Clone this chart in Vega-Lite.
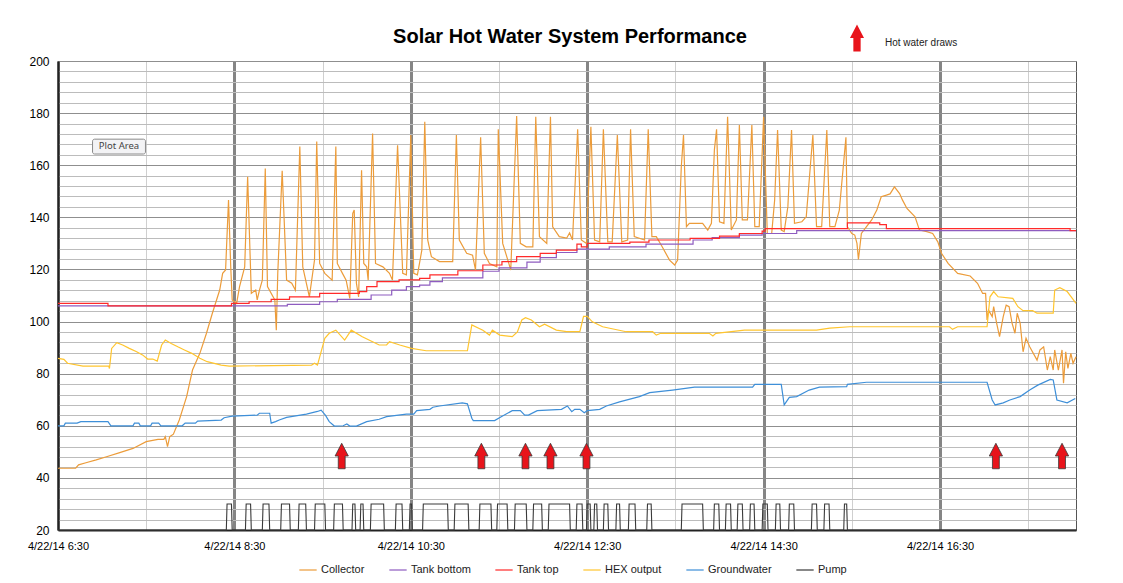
{
  "$schema": "https://vega.github.io/schema/vega-lite/v6.json",
  "width": 1018,
  "height": 469,
  "autosize": {"type": "none"},
  "padding": {"left": 58, "top": 61, "right": 47, "bottom": 53},
  "background": "white",
  "title": {"text": "Solar Hot Water System Performance", "fontSize": 20, "fontWeight": "bold", "font": "Liberation Sans", "color": "#000000", "anchor": "middle", "frame": "group", "offset": 17, "dx": 3, "dy": 40},
  "config": {
    "font": "Liberation Sans",
    "view": {"stroke": "#555555", "strokeWidth": 1}
  },
  "datasets": {
    "collector": [
      {"t":"2014-04-22 06:30","v":43.7},{"t":"2014-04-22 06:42","v":43.7},{"t":"2014-04-22 06:44","v":45},{"t":"2014-04-22 06:49","v":45.8},{"t":"2014-04-22 06:56","v":46.9},{"t":"2014-04-22 07:03","v":48.1},{"t":"2014-04-22 07:12","v":49.7},{"t":"2014-04-22 07:21","v":51.3},{"t":"2014-04-22 07:30","v":53.9},{"t":"2014-04-22 07:38","v":54.8},{"t":"2014-04-22 07:42","v":54.8},{"t":"2014-04-22 07:43","v":55.8},{"t":"2014-04-22 07:44:30","v":52},{"t":"2014-04-22 07:46","v":55.8},{"t":"2014-04-22 07:48:30","v":56.8},{"t":"2014-04-22 07:52:30","v":62.2},{"t":"2014-04-22 07:57:30","v":71.2},{"t":"2014-04-22 08:01:30","v":81.4},{"t":"2014-04-22 08:06:30","v":87.8},{"t":"2014-04-22 08:11","v":95.5},{"t":"2014-04-22 08:15","v":103.2},{"t":"2014-04-22 08:20","v":112.1},{"t":"2014-04-22 08:22","v":118.5},{"t":"2014-04-22 08:24","v":119.8},{"t":"2014-04-22 08:26","v":146.6},{"t":"2014-04-22 08:27:30","v":121},{"t":"2014-04-22 08:28:30","v":108.3},{"t":"2014-04-22 08:31:30","v":107},{"t":"2014-04-22 08:33:30","v":113.4},{"t":"2014-04-22 08:37","v":121},{"t":"2014-04-22 08:39","v":155.6},{"t":"2014-04-22 08:41:30","v":110.8},{"t":"2014-04-22 08:44:30","v":112.1},{"t":"2014-04-22 08:45:30","v":108.3},{"t":"2014-04-22 08:47","v":112},{"t":"2014-04-22 08:49","v":115.9},{"t":"2014-04-22 08:51","v":158.7},{"t":"2014-04-22 08:52:30","v":113.4},{"t":"2014-04-22 08:57:30","v":108.3},{"t":"2014-04-22 08:58:30","v":96.7},{"t":"2014-04-22 08:59:30","v":118.5},{"t":"2014-04-22 09:02:30","v":157.9},{"t":"2014-04-22 09:05:30","v":115.9},{"t":"2014-04-22 09:09","v":114.7},{"t":"2014-04-22 09:11:30","v":112},{"t":"2014-04-22 09:14:30","v":167.2},{"t":"2014-04-22 09:16:30","v":121},{"t":"2014-04-22 09:21","v":109.5},{"t":"2014-04-22 09:24:30","v":123.6},{"t":"2014-04-22 09:26","v":169.1},{"t":"2014-04-22 09:28","v":122.3},{"t":"2014-04-22 09:31:30","v":118.5},{"t":"2014-04-22 09:36:30","v":115.9},{"t":"2014-04-22 09:39","v":167.2},{"t":"2014-04-22 09:40","v":122.3},{"t":"2014-04-22 09:43:30","v":118.5},{"t":"2014-04-22 09:46","v":115.9},{"t":"2014-04-22 09:48:30","v":108.9},{"t":"2014-04-22 09:50:30","v":141.5},{"t":"2014-04-22 09:51:30","v":142.8},{"t":"2014-04-22 09:53","v":114.7},{"t":"2014-04-22 09:54:30","v":109.5},{"t":"2014-04-22 09:56:30","v":158.1},{"t":"2014-04-22 09:58","v":122.3},{"t":"2014-04-22 10:00","v":121},{"t":"2014-04-22 10:01","v":115.9},{"t":"2014-04-22 10:04","v":172.2},{"t":"2014-04-22 10:06","v":122.3},{"t":"2014-04-22 10:11","v":121},{"t":"2014-04-22 10:15:30","v":118.5},{"t":"2014-04-22 10:17:30","v":115.9},{"t":"2014-04-22 10:21","v":167.7},{"t":"2014-04-22 10:24:30","v":118.5},{"t":"2014-04-22 10:27","v":117.9},{"t":"2014-04-22 10:30","v":171.6},{"t":"2014-04-22 10:32","v":118.5},{"t":"2014-04-22 10:34:30","v":117.9},{"t":"2014-04-22 10:37:30","v":127.4},{"t":"2014-04-22 10:39:30","v":176.7},{"t":"2014-04-22 10:41:30","v":131.3},{"t":"2014-04-22 10:44","v":124.9},{"t":"2014-04-22 10:49:30","v":123},{"t":"2014-04-22 10:58:30","v":123},{"t":"2014-04-22 11:01","v":171.6},{"t":"2014-04-22 11:03","v":131.3},{"t":"2014-04-22 11:08","v":126.2},{"t":"2014-04-22 11:12","v":125.5},{"t":"2014-04-22 11:14","v":119.8},{"t":"2014-04-22 11:17:30","v":170.7},{"t":"2014-04-22 11:20","v":126.2},{"t":"2014-04-22 11:23:30","v":122.3},{"t":"2014-04-22 11:28:30","v":121},{"t":"2014-04-22 11:29:30","v":173.8},{"t":"2014-04-22 11:32:30","v":130},{"t":"2014-04-22 11:36","v":123.6},{"t":"2014-04-22 11:38","v":119.8},{"t":"2014-04-22 11:42","v":178.9},{"t":"2014-04-22 11:44:30","v":130},{"t":"2014-04-22 11:48:30","v":128.7},{"t":"2014-04-22 11:53","v":128.7},{"t":"2014-04-22 11:55","v":178.6},{"t":"2014-04-22 11:57:30","v":132.6},{"t":"2014-04-22 12:02:30","v":130},{"t":"2014-04-22 12:05","v":178.6},{"t":"2014-04-22 12:06:30","v":136.4},{"t":"2014-04-22 12:11","v":132.6},{"t":"2014-04-22 12:16","v":132},{"t":"2014-04-22 12:18","v":134},{"t":"2014-04-22 12:20","v":131.3},{"t":"2014-04-22 12:23:30","v":173.8},{"t":"2014-04-22 12:26","v":131.3},{"t":"2014-04-22 12:29:30","v":130},{"t":"2014-04-22 12:32:30","v":174.8},{"t":"2014-04-22 12:35","v":131.3},{"t":"2014-04-22 12:38:30","v":130.6},{"t":"2014-04-22 12:41","v":173.8},{"t":"2014-04-22 12:44","v":130.6},{"t":"2014-04-22 12:47","v":130.6},{"t":"2014-04-22 12:50:30","v":171.6},{"t":"2014-04-22 12:53:30","v":130.6},{"t":"2014-04-22 12:57:30","v":131.3},{"t":"2014-04-22 12:59:30","v":173.8},{"t":"2014-04-22 13:02","v":132.6},{"t":"2014-04-22 13:09","v":131.3},{"t":"2014-04-22 13:11:30","v":173.8},{"t":"2014-04-22 13:14","v":132.6},{"t":"2014-04-22 13:17","v":132.6},{"t":"2014-04-22 13:21","v":128.7},{"t":"2014-04-22 13:26","v":123.6},{"t":"2014-04-22 13:29:30","v":121.7},{"t":"2014-04-22 13:31:30","v":123.6},{"t":"2014-04-22 13:34","v":159.4},{"t":"2014-04-22 13:35:30","v":171.6},{"t":"2014-04-22 13:37:30","v":136.4},{"t":"2014-04-22 13:39:30","v":137.7},{"t":"2014-04-22 13:48:30","v":137.7},{"t":"2014-04-22 13:52","v":135.1},{"t":"2014-04-22 13:54:30","v":137.7},{"t":"2014-04-22 13:56:30","v":165.8},{"t":"2014-04-22 13:58","v":173.8},{"t":"2014-04-22 14:00","v":138.3},{"t":"2014-04-22 14:03","v":137.7},{"t":"2014-04-22 14:05:30","v":178.6},{"t":"2014-04-22 14:08","v":135.1},{"t":"2014-04-22 14:11:30","v":139},{"t":"2014-04-22 14:13:30","v":175.4},{"t":"2014-04-22 14:15:30","v":139},{"t":"2014-04-22 14:19","v":139},{"t":"2014-04-22 14:22","v":175.4},{"t":"2014-04-22 14:24","v":136.4},{"t":"2014-04-22 14:27","v":136.4},{"t":"2014-04-22 14:30","v":178.6},{"t":"2014-04-22 14:32:30","v":133.8},{"t":"2014-04-22 14:35:30","v":133.8},{"t":"2014-04-22 14:37:30","v":146.6},{"t":"2014-04-22 14:39:30","v":173.5},{"t":"2014-04-22 14:42","v":135.1},{"t":"2014-04-22 14:44","v":134.5},{"t":"2014-04-22 14:46:30","v":144.1},{"t":"2014-04-22 14:49","v":173.5},{"t":"2014-04-22 14:51","v":137.7},{"t":"2014-04-22 14:56","v":138.3},{"t":"2014-04-22 14:59","v":140.2},{"t":"2014-04-22 15:03:30","v":171.6},{"t":"2014-04-22 15:06","v":136.4},{"t":"2014-04-22 15:09:30","v":136.4},{"t":"2014-04-22 15:13","v":173.5},{"t":"2014-04-22 15:15","v":136.4},{"t":"2014-04-22 15:18:30","v":136.4},{"t":"2014-04-22 15:21:30","v":142.8},{"t":"2014-04-22 15:26","v":170.7},{"t":"2014-04-22 15:27","v":136.4},{"t":"2014-04-22 15:30","v":133.8},{"t":"2014-04-22 15:32","v":133.2},{"t":"2014-04-22 15:33:30","v":130},{"t":"2014-04-22 15:34:30","v":123.8},{"t":"2014-04-22 15:36:30","v":133.8},{"t":"2014-04-22 15:40","v":136.4},{"t":"2014-04-22 15:43:30","v":139},{"t":"2014-04-22 15:47","v":142.8},{"t":"2014-04-22 15:50","v":147.9},{"t":"2014-04-22 15:53:30","v":148.5},{"t":"2014-04-22 15:56","v":149},{"t":"2014-04-22 15:59","v":151.7},{"t":"2014-04-22 16:02:30","v":149.1},{"t":"2014-04-22 16:04:30","v":146.6},{"t":"2014-04-22 16:07:30","v":143.4},{"t":"2014-04-22 16:13","v":140.2},{"t":"2014-04-22 16:16","v":135.1},{"t":"2014-04-22 16:21","v":134.5},{"t":"2014-04-22 16:25","v":133.8},{"t":"2014-04-22 16:28:30","v":130.6},{"t":"2014-04-22 16:31","v":126.2},{"t":"2014-04-22 16:35:30","v":122.3},{"t":"2014-04-22 16:42","v":118.5},{"t":"2014-04-22 16:50:30","v":117.5},{"t":"2014-04-22 16:55:30","v":114.7},{"t":"2014-04-22 16:59","v":110.8},{"t":"2014-04-22 17:01","v":110.8},{"t":"2014-04-22 17:02","v":100.6},{"t":"2014-04-22 17:03","v":104.4},{"t":"2014-04-22 17:05:30","v":101.9},{"t":"2014-04-22 17:06:30","v":105.7},{"t":"2014-04-22 17:08:30","v":99.4},{"t":"2014-04-22 17:10:30","v":94.2},{"t":"2014-04-22 17:13","v":101.9},{"t":"2014-04-22 17:15","v":106.3},{"t":"2014-04-22 17:17","v":105.7},{"t":"2014-04-22 17:19","v":99.4},{"t":"2014-04-22 17:21","v":95.5},{"t":"2014-04-22 17:22:30","v":103.2},{"t":"2014-04-22 17:24:30","v":99.4},{"t":"2014-04-22 17:26:30","v":88.4},{"t":"2014-04-22 17:28:30","v":93.6},{"t":"2014-04-22 17:31","v":90.3},{"t":"2014-04-22 17:36","v":85.2},{"t":"2014-04-22 17:38","v":89.1},{"t":"2014-04-22 17:40:30","v":90.3},{"t":"2014-04-22 17:43","v":81.4},{"t":"2014-04-22 17:45","v":86.5},{"t":"2014-04-22 17:47","v":81.4},{"t":"2014-04-22 17:48","v":89.1},{"t":"2014-04-22 17:50:30","v":81.4},{"t":"2014-04-22 17:53","v":89.1},{"t":"2014-04-22 17:54","v":76.3},{"t":"2014-04-22 17:55:30","v":88.4},{"t":"2014-04-22 17:57","v":82},{"t":"2014-04-22 17:59","v":87.8},{"t":"2014-04-22 18:00:30","v":84},{"t":"2014-04-22 18:02:30","v":86.5}
    ],
    "tankTop": [
      {"t":"2014-04-22 06:30","v":107},{"t":"2014-04-22 07:04","v":106},{"t":"2014-04-22 08:28","v":107},{"t":"2014-04-22 08:40","v":107.6},{"t":"2014-04-22 08:55","v":108.5},{"t":"2014-04-22 09:07:30","v":109.5},{"t":"2014-04-22 09:28","v":110.8},{"t":"2014-04-22 09:55","v":111.5},{"t":"2014-04-22 10:00","v":113.4},{"t":"2014-04-22 10:07","v":115.3},{"t":"2014-04-22 10:22","v":116},{"t":"2014-04-22 10:36","v":116.6},{"t":"2014-04-22 10:43","v":117.9},{"t":"2014-04-22 11:02","v":119.5},{"t":"2014-04-22 11:19","v":121.7},{"t":"2014-04-22 11:32","v":123},{"t":"2014-04-22 11:42","v":124.9},{"t":"2014-04-22 11:58","v":126.2},{"t":"2014-04-22 12:09","v":127.4},{"t":"2014-04-22 12:23","v":129.7},{"t":"2014-04-22 12:26","v":128.7},{"t":"2014-04-22 12:30","v":130},{"t":"2014-04-22 12:59","v":130.5},{"t":"2014-04-22 13:12","v":131.3},{"t":"2014-04-22 13:40","v":131.9},{"t":"2014-04-22 14:00","v":132.8},{"t":"2014-04-22 14:13:30","v":133.8},{"t":"2014-04-22 14:29","v":134.7},{"t":"2014-04-22 14:31","v":135.7},{"t":"2014-04-22 15:27","v":137.9},{"t":"2014-04-22 15:49","v":137.2},{"t":"2014-04-22 15:53:30","v":135.7},{"t":"2014-04-22 17:58:30","v":134.9},{"t":"2014-04-22 18:02:30","v":134.9}
    ],
    "tankBottom": [
      {"t":"2014-04-22 06:30","v":106},{"t":"2014-04-22 09:06","v":106.6},{"t":"2014-04-22 09:28","v":107.6},{"t":"2014-04-22 09:40","v":108.5},{"t":"2014-04-22 10:03","v":110.2},{"t":"2014-04-22 10:17","v":112.1},{"t":"2014-04-22 10:27","v":113.4},{"t":"2014-04-22 10:36","v":114},{"t":"2014-04-22 10:43","v":115.3},{"t":"2014-04-22 10:51:30","v":116.8},{"t":"2014-04-22 11:19","v":119.3},{"t":"2014-04-22 11:30","v":120.6},{"t":"2014-04-22 11:49","v":122.8},{"t":"2014-04-22 11:58","v":124.5},{"t":"2014-04-22 12:09","v":126.5},{"t":"2014-04-22 12:23","v":127.8},{"t":"2014-04-22 12:45","v":128.7},{"t":"2014-04-22 13:10","v":129.7},{"t":"2014-04-22 13:42","v":131.3},{"t":"2014-04-22 13:55","v":132.2},{"t":"2014-04-22 14:13:30","v":133.2},{"t":"2014-04-22 14:29","v":133.8},{"t":"2014-04-22 14:52:30","v":134.9},{"t":"2014-04-22 18:02:30","v":134.9}
    ],
    "hex": [
      {"t":"2014-04-22 06:30","v":85.9},{"t":"2014-04-22 06:34","v":85.5},{"t":"2014-04-22 06:36:30","v":84},{"t":"2014-04-22 06:47","v":82.9},{"t":"2014-04-22 07:04:30","v":82.9},{"t":"2014-04-22 07:05","v":82},{"t":"2014-04-22 07:06:30","v":89.7},{"t":"2014-04-22 07:10","v":91.9},{"t":"2014-04-22 07:14","v":91},{"t":"2014-04-22 07:18:30","v":89.7},{"t":"2014-04-22 07:23:30","v":88.4},{"t":"2014-04-22 07:27:30","v":87.2},{"t":"2014-04-22 07:31","v":85.6},{"t":"2014-04-22 07:34:30","v":85.6},{"t":"2014-04-22 07:37:30","v":84.8},{"t":"2014-04-22 07:40:30","v":91},{"t":"2014-04-22 07:43","v":92.9},{"t":"2014-04-22 07:47","v":91.6},{"t":"2014-04-22 07:51:30","v":90.3},{"t":"2014-04-22 07:56","v":89.1},{"t":"2014-04-22 08:01","v":87.8},{"t":"2014-04-22 08:06:30","v":85.9},{"t":"2014-04-22 08:11:30","v":84.6},{"t":"2014-04-22 08:21","v":83.3},{"t":"2014-04-22 08:26:30","v":82.9},{"t":"2014-04-22 09:22:30","v":83.3},{"t":"2014-04-22 09:24:30","v":84},{"t":"2014-04-22 09:26:30","v":83.3},{"t":"2014-04-22 09:31:30","v":93.6},{"t":"2014-04-22 09:34:30","v":95.5},{"t":"2014-04-22 09:39","v":96.7},{"t":"2014-04-22 09:45","v":92.9},{"t":"2014-04-22 09:49:30","v":96.7},{"t":"2014-04-22 09:57","v":94.2},{"t":"2014-04-22 10:08:30","v":91},{"t":"2014-04-22 10:13:30","v":91},{"t":"2014-04-22 10:15:30","v":92.3},{"t":"2014-04-22 10:22:30","v":91},{"t":"2014-04-22 10:30:30","v":89.7},{"t":"2014-04-22 10:40:30","v":88.8},{"t":"2014-04-22 11:08:30","v":88.8},{"t":"2014-04-22 11:11:30","v":98.7},{"t":"2014-04-22 11:19","v":96.7},{"t":"2014-04-22 11:23:30","v":94.8},{"t":"2014-04-22 11:25:30","v":96.7},{"t":"2014-04-22 11:30:30","v":94.8},{"t":"2014-04-22 11:39","v":94.2},{"t":"2014-04-22 11:42:30","v":96},{"t":"2014-04-22 11:45:30","v":100.6},{"t":"2014-04-22 11:48","v":101.5},{"t":"2014-04-22 11:52","v":100.6},{"t":"2014-04-22 11:57:30","v":98},{"t":"2014-04-22 12:01","v":99},{"t":"2014-04-22 12:09","v":96.7},{"t":"2014-04-22 12:16","v":96.1},{"t":"2014-04-22 12:25","v":96.1},{"t":"2014-04-22 12:27:30","v":102},{"t":"2014-04-22 12:30","v":102},{"t":"2014-04-22 12:33:30","v":99.9},{"t":"2014-04-22 12:40:30","v":98},{"t":"2014-04-22 12:56:30","v":96.1},{"t":"2014-04-22 13:14:30","v":96.1},{"t":"2014-04-22 13:17","v":94.8},{"t":"2014-04-22 13:20","v":95.5},{"t":"2014-04-22 13:53","v":95.5},{"t":"2014-04-22 13:55:30","v":94.5},{"t":"2014-04-22 13:57:30","v":95.5},{"t":"2014-04-22 14:17","v":96.7},{"t":"2014-04-22 15:06","v":96.7},{"t":"2014-04-22 15:15","v":97.5},{"t":"2014-04-22 15:28:30","v":98},{"t":"2014-04-22 16:36:30","v":98},{"t":"2014-04-22 16:38:30","v":97},{"t":"2014-04-22 16:42","v":98},{"t":"2014-04-22 17:02","v":98},{"t":"2014-04-22 17:04","v":109.5},{"t":"2014-04-22 17:06:30","v":111.5},{"t":"2014-04-22 17:09:30","v":109.5},{"t":"2014-04-22 17:19:30","v":108.9},{"t":"2014-04-22 17:23","v":105.7},{"t":"2014-04-22 17:26:30","v":104.2},{"t":"2014-04-22 17:33","v":104.2},{"t":"2014-04-22 17:36","v":103.2},{"t":"2014-04-22 17:47","v":103.2},{"t":"2014-04-22 17:48","v":112.1},{"t":"2014-04-22 17:51:30","v":113},{"t":"2014-04-22 17:56:30","v":111.5},{"t":"2014-04-22 18:00","v":108.9},{"t":"2014-04-22 18:02:30","v":107}
    ],
    "ground": [
      {"t":"2014-04-22 06:30","v":60},{"t":"2014-04-22 06:34","v":60},{"t":"2014-04-22 06:35","v":61},{"t":"2014-04-22 06:43","v":61},{"t":"2014-04-22 06:45:30","v":61.6},{"t":"2014-04-22 07:04","v":61.6},{"t":"2014-04-22 07:06","v":60},{"t":"2014-04-22 07:21","v":60},{"t":"2014-04-22 07:22","v":61},{"t":"2014-04-22 07:25","v":61},{"t":"2014-04-22 07:26","v":60},{"t":"2014-04-22 07:33","v":60},{"t":"2014-04-22 07:34","v":61},{"t":"2014-04-22 07:38:30","v":61},{"t":"2014-04-22 07:40","v":60},{"t":"2014-04-22 07:54:30","v":60},{"t":"2014-04-22 07:56:30","v":61},{"t":"2014-04-22 08:03:30","v":61},{"t":"2014-04-22 08:05","v":61.8},{"t":"2014-04-22 08:21","v":62.2},{"t":"2014-04-22 08:23","v":63.1},{"t":"2014-04-22 08:28:30","v":63.7},{"t":"2014-04-22 08:45:30","v":64.1},{"t":"2014-04-22 08:47","v":64.8},{"t":"2014-04-22 08:54","v":64.8},{"t":"2014-04-22 08:55","v":61},{"t":"2014-04-22 08:58","v":61.6},{"t":"2014-04-22 09:00:30","v":62.2},{"t":"2014-04-22 09:05:30","v":63.2},{"t":"2014-04-22 09:19","v":64.5},{"t":"2014-04-22 09:26:30","v":65.5},{"t":"2014-04-22 09:29","v":66},{"t":"2014-04-22 09:32","v":64},{"t":"2014-04-22 09:34:30","v":61.6},{"t":"2014-04-22 09:38","v":59.9},{"t":"2014-04-22 09:44","v":60},{"t":"2014-04-22 09:46:30","v":60.7},{"t":"2014-04-22 09:48:30","v":59.9},{"t":"2014-04-22 09:53","v":59.9},{"t":"2014-04-22 10:00","v":61.6},{"t":"2014-04-22 10:08:30","v":62.5},{"t":"2014-04-22 10:13:30","v":63.5},{"t":"2014-04-22 10:27","v":64.5},{"t":"2014-04-22 10:32","v":64.5},{"t":"2014-04-22 10:34","v":65.8},{"t":"2014-04-22 10:43","v":66.3},{"t":"2014-04-22 10:45","v":67.1},{"t":"2014-04-22 10:49:30","v":67.6},{"t":"2014-04-22 11:05","v":68.8},{"t":"2014-04-22 11:08:30","v":68.4},{"t":"2014-04-22 11:11:30","v":62.9},{"t":"2014-04-22 11:12:30","v":62},{"t":"2014-04-22 11:27","v":62},{"t":"2014-04-22 11:31:30","v":63.5},{"t":"2014-04-22 11:39","v":65.8},{"t":"2014-04-22 11:44:30","v":65.8},{"t":"2014-04-22 11:47:30","v":64.1},{"t":"2014-04-22 11:50","v":64.1},{"t":"2014-04-22 11:56","v":65.8},{"t":"2014-04-22 12:12:30","v":66.3},{"t":"2014-04-22 12:16:30","v":67.6},{"t":"2014-04-22 12:19:30","v":65.4},{"t":"2014-04-22 12:21:30","v":66.3},{"t":"2014-04-22 12:25","v":66.3},{"t":"2014-04-22 12:28","v":65},{"t":"2014-04-22 12:30","v":65.8},{"t":"2014-04-22 12:38:30","v":66.3},{"t":"2014-04-22 12:43","v":67.6},{"t":"2014-04-22 12:52","v":69.2},{"t":"2014-04-22 13:05:30","v":71.2},{"t":"2014-04-22 13:12:30","v":72.7},{"t":"2014-04-22 13:28","v":73.7},{"t":"2014-04-22 13:43","v":74.8},{"t":"2014-04-22 14:22:30","v":74.8},{"t":"2014-04-22 14:24","v":75.9},{"t":"2014-04-22 14:42","v":75.9},{"t":"2014-04-22 14:44","v":68},{"t":"2014-04-22 14:47:30","v":70.9},{"t":"2014-04-22 14:52:30","v":71.2},{"t":"2014-04-22 15:01","v":73.7},{"t":"2014-04-22 15:08","v":74.8},{"t":"2014-04-22 15:26:30","v":75},{"t":"2014-04-22 15:27","v":75.9},{"t":"2014-04-22 15:40","v":76.7},{"t":"2014-04-22 17:02","v":76.7},{"t":"2014-04-22 17:05:30","v":69.9},{"t":"2014-04-22 17:07:30","v":68},{"t":"2014-04-22 17:13","v":68.8},{"t":"2014-04-22 17:17:30","v":69.9},{"t":"2014-04-22 17:24:30","v":71.2},{"t":"2014-04-22 17:31","v":73.7},{"t":"2014-04-22 17:36:30","v":75.6},{"t":"2014-04-22 17:45","v":77.8},{"t":"2014-04-22 17:47","v":77.6},{"t":"2014-04-22 17:49:30","v":69.9},{"t":"2014-04-22 17:56:30","v":68.8},{"t":"2014-04-22 18:02","v":70.5}
    ],
    "pump": [
      {"t":"2014-04-22 06:30","v":20},
      {"t":"2014-04-22 08:24:30","v":20},{"t":"2014-04-22 08:25:00","v":30},{"t":"2014-04-22 08:28:00","v":30},{"t":"2014-04-22 08:28:30","v":20},
      {"t":"2014-04-22 08:37:30","v":20},{"t":"2014-04-22 08:38:00","v":30},{"t":"2014-04-22 08:41:00","v":30},{"t":"2014-04-22 08:41:30","v":20},
      {"t":"2014-04-22 08:49:00","v":20},{"t":"2014-04-22 08:49:30","v":30},{"t":"2014-04-22 08:53:30","v":30},{"t":"2014-04-22 08:54:00","v":20},
      {"t":"2014-04-22 09:01:30","v":20},{"t":"2014-04-22 09:02:00","v":30},{"t":"2014-04-22 09:07:30","v":30},{"t":"2014-04-22 09:08:00","v":20},
      {"t":"2014-04-22 09:13:30","v":20},{"t":"2014-04-22 09:14:00","v":30},{"t":"2014-04-22 09:18:30","v":30},{"t":"2014-04-22 09:19:00","v":20},
      {"t":"2014-04-22 09:24:30","v":20},{"t":"2014-04-22 09:25:00","v":30},{"t":"2014-04-22 09:31:30","v":30},{"t":"2014-04-22 09:32:00","v":20},
      {"t":"2014-04-22 09:37:30","v":20},{"t":"2014-04-22 09:38:00","v":30},{"t":"2014-04-22 09:43:30","v":30},{"t":"2014-04-22 09:44:00","v":20},
      {"t":"2014-04-22 09:50:00","v":20},{"t":"2014-04-22 09:50:30","v":30},{"t":"2014-04-22 09:52:00","v":30},{"t":"2014-04-22 09:52:30","v":20},
      {"t":"2014-04-22 09:55:30","v":20},{"t":"2014-04-22 09:56:00","v":30},{"t":"2014-04-22 09:57:30","v":30},{"t":"2014-04-22 09:58:00","v":20},
      {"t":"2014-04-22 10:02:30","v":20},{"t":"2014-04-22 10:03:00","v":30},{"t":"2014-04-22 10:11:30","v":30},{"t":"2014-04-22 10:12:00","v":20},
      {"t":"2014-04-22 10:19:30","v":20},{"t":"2014-04-22 10:20:00","v":30},{"t":"2014-04-22 10:24:00","v":30},{"t":"2014-04-22 10:24:30","v":20},
      {"t":"2014-04-22 10:29:00","v":20},{"t":"2014-04-22 10:29:30","v":30},{"t":"2014-04-22 10:30:30","v":30},{"t":"2014-04-22 10:31:00","v":20},
      {"t":"2014-04-22 10:38:00","v":20},{"t":"2014-04-22 10:38:30","v":30},{"t":"2014-04-22 10:55:00","v":30},{"t":"2014-04-22 10:55:30","v":20},
      {"t":"2014-04-22 10:59:30","v":20},{"t":"2014-04-22 11:00:00","v":30},{"t":"2014-04-22 11:09:00","v":30},{"t":"2014-04-22 11:09:30","v":20},
      {"t":"2014-04-22 11:16:30","v":20},{"t":"2014-04-22 11:17:00","v":30},{"t":"2014-04-22 11:24:30","v":30},{"t":"2014-04-22 11:25:00","v":20},
      {"t":"2014-04-22 11:28:30","v":20},{"t":"2014-04-22 11:29:00","v":30},{"t":"2014-04-22 11:35:30","v":30},{"t":"2014-04-22 11:36:00","v":20},
      {"t":"2014-04-22 11:40:30","v":20},{"t":"2014-04-22 11:41:00","v":30},{"t":"2014-04-22 11:48:30","v":30},{"t":"2014-04-22 11:49:00","v":20},
      {"t":"2014-04-22 11:53:00","v":20},{"t":"2014-04-22 11:53:30","v":30},{"t":"2014-04-22 11:59:00","v":30},{"t":"2014-04-22 11:59:30","v":20},
      {"t":"2014-04-22 12:03:30","v":20},{"t":"2014-04-22 12:04:00","v":30},{"t":"2014-04-22 12:18:00","v":30},{"t":"2014-04-22 12:18:30","v":20},
      {"t":"2014-04-22 12:22:30","v":20},{"t":"2014-04-22 12:23:00","v":30},{"t":"2014-04-22 12:26:30","v":30},{"t":"2014-04-22 12:27:00","v":20},
      {"t":"2014-04-22 12:29:30","v":20},{"t":"2014-04-22 12:30:00","v":30},{"t":"2014-04-22 12:32:00","v":30},{"t":"2014-04-22 12:32:30","v":20},
      {"t":"2014-04-22 12:34:30","v":20},{"t":"2014-04-22 12:35:00","v":30},{"t":"2014-04-22 12:36:30","v":30},{"t":"2014-04-22 12:37:00","v":20},
      {"t":"2014-04-22 12:41:00","v":20},{"t":"2014-04-22 12:41:30","v":30},{"t":"2014-04-22 12:44:00","v":30},{"t":"2014-04-22 12:44:30","v":20},
      {"t":"2014-04-22 12:49:30","v":20},{"t":"2014-04-22 12:50:00","v":30},{"t":"2014-04-22 12:52:00","v":30},{"t":"2014-04-22 12:52:30","v":20},
      {"t":"2014-04-22 12:58:00","v":20},{"t":"2014-04-22 12:58:30","v":30},{"t":"2014-04-22 13:02:30","v":30},{"t":"2014-04-22 13:03:00","v":20},
      {"t":"2014-04-22 13:10:30","v":20},{"t":"2014-04-22 13:11:00","v":30},{"t":"2014-04-22 13:13:30","v":30},{"t":"2014-04-22 13:14:00","v":20},
      {"t":"2014-04-22 13:34:00","v":20},{"t":"2014-04-22 13:34:30","v":30},{"t":"2014-04-22 13:48:30","v":30},{"t":"2014-04-22 13:49:00","v":20},
      {"t":"2014-04-22 13:56:00","v":20},{"t":"2014-04-22 13:56:30","v":30},{"t":"2014-04-22 13:59:30","v":30},{"t":"2014-04-22 14:00:00","v":20},
      {"t":"2014-04-22 14:04:00","v":20},{"t":"2014-04-22 14:04:30","v":30},{"t":"2014-04-22 14:07:30","v":30},{"t":"2014-04-22 14:08:00","v":20},
      {"t":"2014-04-22 14:12:00","v":20},{"t":"2014-04-22 14:12:30","v":30},{"t":"2014-04-22 14:15:30","v":30},{"t":"2014-04-22 14:16:00","v":20},
      {"t":"2014-04-22 14:20:30","v":20},{"t":"2014-04-22 14:21:00","v":30},{"t":"2014-04-22 14:23:30","v":30},{"t":"2014-04-22 14:24:00","v":20},
      {"t":"2014-04-22 14:29:00","v":20},{"t":"2014-04-22 14:29:30","v":30},{"t":"2014-04-22 14:32:30","v":30},{"t":"2014-04-22 14:33:00","v":20},
      {"t":"2014-04-22 14:38:00","v":20},{"t":"2014-04-22 14:38:30","v":30},{"t":"2014-04-22 14:41:00","v":30},{"t":"2014-04-22 14:41:30","v":20},
      {"t":"2014-04-22 14:47:00","v":20},{"t":"2014-04-22 14:47:30","v":30},{"t":"2014-04-22 14:50:30","v":30},{"t":"2014-04-22 14:51:00","v":20},
      {"t":"2014-04-22 15:02:30","v":20},{"t":"2014-04-22 15:03:00","v":30},{"t":"2014-04-22 15:06:00","v":30},{"t":"2014-04-22 15:06:30","v":20},
      {"t":"2014-04-22 15:11:00","v":20},{"t":"2014-04-22 15:11:30","v":30},{"t":"2014-04-22 15:14:30","v":30},{"t":"2014-04-22 15:15:00","v":20},
      {"t":"2014-04-22 15:24:30","v":20},{"t":"2014-04-22 15:25:00","v":30},{"t":"2014-04-22 15:26:30","v":30},{"t":"2014-04-22 15:27:00","v":20},
      {"t":"2014-04-22 18:02:30","v":20}
    ],
    "draws": [
      {"t":"2014-04-22 09:43","v":48.4},{"t":"2014-04-22 11:18","v":48.4},{"t":"2014-04-22 11:48","v":48.4},{"t":"2014-04-22 12:05","v":48.4},{"t":"2014-04-22 12:29:30","v":48.4},{"t":"2014-04-22 17:08","v":48.4},{"t":"2014-04-22 17:53","v":48.4}
    ],
    "note": [
      {"t":"2014-04-22 06:53:30","t2":"2014-04-22 07:29:30","v":164.3,"v2":170.0,"tm":"2014-04-22 07:11:30","vm":167.2,"label":"Plot Area"}
    ]
  },
  "encoding": {
    "x": {
      "field": "t", "type": "temporal", "title": null,
      "scale": {"domain": [{"year":2014,"month":4,"date":22,"hours":6,"minutes":30}, {"year":2014,"month":4,"date":22,"hours":18,"minutes":2,"seconds":30}], "nice": false},
      "axis": {
        "values": [
          {"year":2014,"month":4,"date":22,"hours":6,"minutes":30},{"year":2014,"month":4,"date":22,"hours":7,"minutes":30},{"year":2014,"month":4,"date":22,"hours":8,"minutes":30},{"year":2014,"month":4,"date":22,"hours":9,"minutes":30},{"year":2014,"month":4,"date":22,"hours":10,"minutes":30},{"year":2014,"month":4,"date":22,"hours":11,"minutes":30},{"year":2014,"month":4,"date":22,"hours":12,"minutes":30},{"year":2014,"month":4,"date":22,"hours":13,"minutes":30},{"year":2014,"month":4,"date":22,"hours":14,"minutes":30},{"year":2014,"month":4,"date":22,"hours":15,"minutes":30},{"year":2014,"month":4,"date":22,"hours":16,"minutes":30},{"year":2014,"month":4,"date":22,"hours":17,"minutes":30}
        ],
        "grid": true,
        "gridColor": {"condition": {"test": "hours(datum.value) % 2 === 0", "value": "#858585"}, "value": "#cfcfcf"},
        "gridWidth": {"condition": {"test": "hours(datum.value) % 2 === 0", "value": 3}, "value": 1},
        "ticks": false,
        "domainColor": "#222222",
        "domainWidth": 2,
        "labelExpr": "hours(datum.value) % 2 === 0 ? timeFormat(datum.value, '%-m/%-d/%y %-H:%M') : ''",
        "labelFontSize": 11,
        "labelColor": "#000000",
        "labelPadding": 10,
        "labelFlush": false,
        "labelOverlap": false
      }
    },
    "y": {
      "field": "v", "type": "quantitative", "title": null,
      "scale": {"domain": [20, 200], "nice": false, "zero": false},
      "axis": {
        "values": [20,24,28,32,36,40,44,48,52,56,60,64,68,72,76,80,84,88,92,96,100,104,108,112,116,120,124,128,132,136,140,144,148,152,156,160,164,168,172,176,180,184,188,192,196,200],
        "grid": true,
        "gridColor": {"condition": {"test": "datum.value % 20 === 0", "value": "#8f8f8f"}, "value": "#bcbcbc"},
        "gridWidth": 1,
        "ticks": false,
        "domainColor": "#222222",
        "domainWidth": 2,
        "labelExpr": "datum.value % 20 === 0 ? datum.label : ''",
        "labelFontSize": 12,
        "labelColor": "#000000",
        "labelPadding": 9,
        "labelOverlap": false
      }
    }
  },
  "layer": [
    {
      "data": {"name": "pump"},
      "mark": {"type": "line", "strokeWidth": 1.1},
      "encoding": {
        "color": {
          "datum": "Pump", "type": "nominal",
          "scale": {"domain": ["Collector", "Tank bottom", "Tank top", "HEX output", "Groundwater", "Pump"], "range": ["#EC9C3A", "#8E5CC0", "#FF2A2A", "#FFC52E", "#3E8FD8", "#3a3a3a"]},
          "legend": {"orient": "none", "legendX": 240, "legendY": 499, "direction": "horizontal", "title": null, "labelFontSize": 11, "labelColor": "#222222", "symbolType": "stroke", "symbolStrokeWidth": 2, "symbolSize": 300, "symbolOpacity": 0.6, "columnPadding": 20, "labelOffset": 3}
        }
      }
    },
    {
      "data": {"name": "collector"},
      "mark": {"type": "line", "strokeWidth": 1.2},
      "encoding": {"color": {"datum": "Collector", "type": "nominal"}}
    },
    {
      "data": {"name": "hex"},
      "mark": {"type": "line", "strokeWidth": 1.2},
      "encoding": {"color": {"datum": "HEX output", "type": "nominal"}}
    },
    {
      "data": {"name": "ground"},
      "mark": {"type": "line", "strokeWidth": 1.2},
      "encoding": {"color": {"datum": "Groundwater", "type": "nominal"}}
    },
    {
      "data": {"name": "tankBottom"},
      "mark": {"type": "line", "strokeWidth": 1.2, "interpolate": "step-after"},
      "encoding": {"color": {"datum": "Tank bottom", "type": "nominal"}}
    },
    {
      "data": {"name": "tankTop"},
      "mark": {"type": "line", "strokeWidth": 1.2, "interpolate": "step-after"},
      "encoding": {"color": {"datum": "Tank top", "type": "nominal"}}
    },
    {
      "data": {"name": "draws"},
      "mark": {"type": "point", "filled": true, "fill": "#E8141B", "stroke": "#3a3a3a", "strokeWidth": 0.8, "size": 650, "opacity": 1},
      "encoding": {
        "shape": {
          "datum": "Hot water draws", "type": "nominal",
          "scale": {"range": ["M0,-1L0.52,0L0.27,0L0.27,1L-0.27,1L-0.27,0L-0.52,0Z"]},
          "legend": {"orient": "none", "legendX": 785, "legendY": -37, "title": null, "symbolSize": 729, "symbolFillColor": "#E8141B", "symbolStrokeColor": "#3a3a3a", "symbolStrokeWidth": 0.8, "labelFontSize": 10, "labelOffset": 14, "labelBaseline": "top", "labelColor": "#222222"}
        }
      }
    },
    {
      "data": {"name": "note"},
      "mark": {"type": "rect", "fill": "#f3f3f5", "stroke": "#8a8a8a", "strokeWidth": 1, "cornerRadius": 2},
      "encoding": {"x2": {"field": "t2"}, "y2": {"field": "v2"}}
    },
    {
      "data": {"name": "note"},
      "mark": {"type": "text", "font": "Noto Sans", "fontSize": 9.5, "color": "#444444"},
      "encoding": {"x": {"field": "tm", "type": "temporal"}, "y": {"field": "vm", "type": "quantitative"}, "text": {"field": "label"}}
    }
  ]
}
